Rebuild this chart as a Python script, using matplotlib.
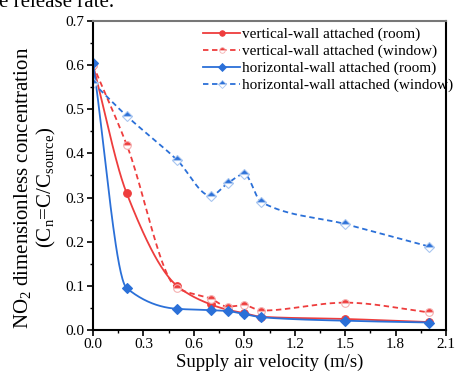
import numpy as np
import matplotlib
matplotlib.use('Agg')
import matplotlib.pyplot as plt

plt.rcParams['font.family'] = 'Liberation Serif'
plt.rcParams['mathtext.fontset'] = 'custom'
plt.rcParams['mathtext.rm'] = 'Liberation Serif'
plt.rcParams['mathtext.it'] = 'Liberation Serif'

velocidad = [0.0, 0.2, 0.5, 0.7, 0.8, 0.9, 1.0, 1.5, 2.0]
vertical_room = [0.60, 0.31, 0.100, 0.058, 0.046, 0.038, 0.030, 0.025, 0.018]
vertical_window = [0.60, 0.42, 0.095, 0.071, 0.053, 0.056, 0.044, 0.062, 0.040]
horizontal_room = [0.605, 0.095, 0.048, 0.045, 0.043, 0.036, 0.029, 0.021, 0.017]
horizontal_window = [0.56, 0.485, 0.385, 0.304, 0.332, 0.353, 0.29, 0.24, 0.189]

etiquetas = ['vertical-wall attached (room)', 'vertical-wall attached (window)',
             'horizontal-wall attached (room)', 'horizontal-wall attached (window)']

ROJO = '#ee3d3d'
AZUL = '#2b70d8'


def suavizar(x, y, n=400):
    # curva monotona tipo pchip solo para dibujar la linea
    x = np.asarray(x, float)
    y = np.asarray(y, float)
    h = np.diff(x)
    d = np.diff(y) / h
    m = np.zeros_like(y)
    m[0], m[-1] = d[0], d[-1]
    for k in range(1, len(x) - 1):
        if d[k - 1] * d[k] <= 0:
            m[k] = 0.0
        else:
            w1 = 2 * h[k] + h[k - 1]
            w2 = h[k] + 2 * h[k - 1]
            m[k] = (w1 + w2) / (w1 / d[k - 1] + w2 / d[k])
    xs = np.linspace(x[0], x[-1], n)
    idx = np.clip(np.searchsorted(x, xs) - 1, 0, len(x) - 2)
    t = (xs - x[idx]) / h[idx]
    h00 = 2 * t**3 - 3 * t**2 + 1
    h10 = t**3 - 2 * t**2 + t
    h01 = -2 * t**3 + 3 * t**2
    h11 = t**3 - t**2
    ys = h00 * y[idx] + h10 * h[idx] * m[idx] + h01 * y[idx + 1] + h11 * h[idx] * m[idx + 1]
    return xs, ys


fig = plt.figure(figsize=(4.55, 3.76), dpi=100)
ax = fig.add_axes([0.2044, 0.1223, 0.776, 0.822])

series = [
    (vertical_room, ROJO, '-', 'o', 'full'),
    (vertical_window, ROJO, '--', 'o', 'top'),
    (horizontal_room, AZUL, '-', 'D', 'full'),
    (horizontal_window, AZUL, '--', 'D', 'top'),
]

for (valores, color, ls, mk, fill), etiqueta in zip(series, etiquetas):
    claro = '#f5b0b0' if color == ROJO else '#a9c6f0'
    borde = color if fill == 'full' else claro
    guiones = (3, 2) if ls == '--' else (None, None)
    xs, ys = suavizar(velocidad, valores)
    ax.plot(xs, ys, color=color, linestyle=ls, linewidth=1.3, dashes=guiones)
    ax.plot(velocidad, valores, linestyle='none', marker=mk, color=color,
            markersize=5.5 if mk == 'o' else 5, fillstyle=fill,
            markerfacecoloralt='white', markeredgecolor=borde, markeredgewidth=0.8)
    ax.plot([], [], color=color, linestyle=ls, linewidth=1.3, marker=mk,
            markersize=4, fillstyle=fill, markerfacecoloralt='white',
            markeredgecolor=borde, markeredgewidth=0.6, dashes=guiones, label=etiqueta)

ax.set_xlim(0, 2.1)
ax.set_ylim(0, 0.7)
ax.set_xticks(np.arange(0, 2.11, 0.3))
ax.set_xticks(np.arange(0.15, 2.1, 0.3), minor=True)
ax.set_yticks(np.arange(0, 0.71, 0.1))
ax.set_yticks(np.arange(0.05, 0.7, 0.1), minor=True)
ax.xaxis.set_major_formatter(matplotlib.ticker.FormatStrFormatter('%.1f'))
ax.yaxis.set_major_formatter(matplotlib.ticker.FormatStrFormatter('%.1f'))
ax.tick_params(which='major', length=4, width=1.2, labelsize=11, direction='out', pad=2)
ax.tick_params(which='minor', length=2.5, width=1.0, direction='out')

for lado in ['left', 'bottom', 'right']:
    ax.spines[lado].set_linewidth(1.5)
    ax.spines[lado].set_color('black')
ax.spines['top'].set_linewidth(1.5)
ax.spines['top'].set_color('#777777')

ax.set_xlabel('Supply air velocity (m/s)', fontsize=13.5, labelpad=2)
ax.set_ylabel('NO$_2$ dimensionless concentration\n(C$_\\mathrm{n}$=C/C$_\\mathrm{source}$)',
              fontsize=15, linespacing=1.1)
ax.yaxis.set_label_coords(-0.1, 0.46)

ax.legend(loc='upper right', bbox_to_anchor=(455 / 455, 1 - 26 / 376),
          bbox_transform=fig.transFigure, frameon=False, fontsize=11,
          handlelength=2.4, handletextpad=0.15, labelspacing=0.2, borderaxespad=0.0,
          borderpad=0.1)

fig.text(-0.003, 1 - 7 / 376, 'e release rate.', fontsize=15, va='baseline', ha='left')

fig.savefig('out.png', dpi=100)
plt.close(fig)
